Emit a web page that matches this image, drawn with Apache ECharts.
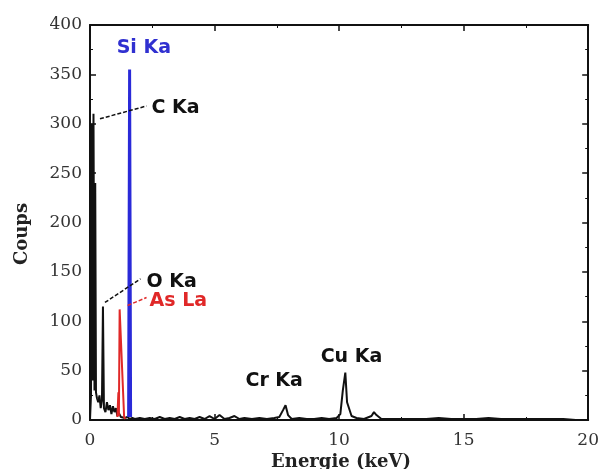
<!DOCTYPE html>
<html><head><meta charset="utf-8">
<script src="https://cdn.jsdelivr.net/npm/echarts@6/dist/echarts.min.js"></script>
<style>html,body{margin:0;padding:0;background:#fff}#c{width:602px;height:469px}</style>
</head><body><div id="c"></div>
<script>
// Spectrum data [energy keV, counts]
const blackSpectrum = [
[0,0],[0.04,25],[0.08,300],[0.11,40],[0.14,310],[0.18,30],[0.21,240],[0.24,28],[0.28,22],[0.33,18],[0.38,25],[0.43,12],[0.48,20],[0.52,115],[0.56,12],[0.62,8],[0.68,18],[0.74,10],[0.8,15],[0.86,6],[0.92,14],[0.98,8],[1.04,12],[1.1,4],[1.16,7],[1.24,3],[1.32,5],[1.4,2],[1.5,3],[1.6,1],[1.7,2],[1.8,1],[2.0,2],[2.2,1],[2.4,2],[2.6,1],[2.8,3],[3.0,1],[3.2,2],[3.4,1],[3.6,3],[3.8,1],[4.0,2],[4.2,1],[4.4,3],[4.6,1],[4.8,4],[5.0,1],[5.2,5],[5.4,1],[5.6,2],[5.8,4],[6.0,1],[6.2,2],[6.5,1],[6.8,2],[7.1,1],[7.4,2],[7.6,3],[7.75,10],[7.85,15],[7.95,5],[8.1,1],[8.4,2],[8.7,1],[9.0,1],[9.3,2],[9.6,1],[9.9,2],[10.05,6],[10.15,30],[10.25,48],[10.32,18],[10.4,20],[10.5,4],[10.7,2],[11.0,1],[11.3,4],[11.4,8],[11.5,5],[11.7,1],[12.0,1],[12.5,1],[13.0,1],[13.5,1],[14.0,2],[14.5,1],[15.0,1],[15.5,1],[16.0,2],[16.5,1],[17.0,1],[17.5,1],[18.0,1],[18.5,1],[19.0,1],[19.5,0],[20,0]
];
const redSpectrum = [[1.1,3],[1.14,28],[1.16,4],[1.19,112],[1.37,3],[1.42,1]];
const blueSpectrum = [[1.55,3],[1.59,355],[1.63,3]];

const xTicks = [0,5,10,15,20];
const yTicks = [0,50,100,150,200,250,300,350,400];

// Peak annotations: text, colour, label anchor [keV, counts], optional leader [from, to]
const peakLabels = [
  {text:'Si Ka', color:'#3030d0', at:[1.07,377]},
  {text:'C Ka', color:'#111', at:[2.47,316], leader:[[0.40,305],[2.27,318]], lc:'#111'},
  {text:'O Ka', color:'#111', at:[2.27,140], leader:[[0.60,119],[2.03,143]], lc:'#111'},
  {text:'As La', color:'#e02828', at:[2.39,120], leader:[[1.51,116],[2.27,124]], lc:'#e02828'},
  {text:'Cr Ka', color:'#111', at:[6.24,39.5]},
  {text:'Cu Ka', color:'#111', at:[9.26,64]}
];

const chart = echarts.init(document.getElementById('c'));
const serif = 'DejaVu Serif';
const axisCommon = {
  axisLine:{show:true,onZero:false,lineStyle:{color:'#111',width:2}},
  axisTick:{show:true,inside:true,length:6,lineStyle:{color:'#111',width:1.5}},
  minorTick:{show:true,splitNumber:2,length:3,lineStyle:{color:'#111',width:1}},
  splitLine:{show:false}
};
chart.setOption({
  animation:false,
  grid:{left:90,right:9,top:25,bottom:49},
  xAxis:[
    Object.assign({type:'value',min:0,max:20,interval:5,position:'bottom',
      axisLabel:{fontFamily:serif,fontSize:17,color:'#333',margin:12,
        formatter:v=>xTicks.includes(v)?String(v):''}},axisCommon),
    Object.assign({type:'value',min:0,max:20,interval:5,position:'top',
      axisLabel:{show:false}},axisCommon)
  ],
  yAxis:[
    Object.assign({type:'value',min:0,max:400,interval:50,position:'left',
      axisLabel:{fontFamily:serif,fontSize:17,color:'#333',margin:8,
        formatter:v=>yTicks.includes(v)?String(v):''}},axisCommon),
    Object.assign({type:'value',min:0,max:400,interval:50,position:'right',
      axisLabel:{show:false}},axisCommon)
  ],
  series:[
    {type:'line',data:blackSpectrum,symbol:'none',lineStyle:{color:'#111',width:2},z:3},
    {type:'line',data:redSpectrum,symbol:'none',lineStyle:{color:'#e02828',width:2},z:4},
    {type:'line',data:blueSpectrum,symbol:'none',lineStyle:{color:'#2a2ad8',width:3},z:5}
  ]
});

const gfx = [];
peakLabels.forEach(p=>{
  const a = chart.convertToPixel({gridIndex:0},p.at);
  gfx.push({type:'text',x:a[0],y:a[1],z:10,style:{text:p.text,fill:p.color,
    font:'bold 19px "DejaVu Sans"',textVerticalAlign:'middle',textAlign:'left'}});
  if(p.leader){
    const s = chart.convertToPixel({gridIndex:0},p.leader[0]);
    const e = chart.convertToPixel({gridIndex:0},p.leader[1]);
    gfx.push({type:'line',z:10,shape:{x1:s[0],y1:s[1],x2:e[0],y2:e[1]},
      style:{stroke:p.lc,lineWidth:1.5,lineDash:[4,2]}});
  }
});
gfx.push({type:'text',x:341,y:462,z:10,style:{text:'Energie (keV)',fill:'#222',
  font:'bold 18px "DejaVu Serif"',textAlign:'center',textVerticalAlign:'middle'}});
gfx.push({type:'text',x:22,y:234,rotation:Math.PI/2,z:10,style:{text:'Coups',fill:'#222',
  font:'bold 18px "DejaVu Serif"',textAlign:'center',textVerticalAlign:'middle'}});
chart.setOption({graphic:gfx});
</script></body></html>
